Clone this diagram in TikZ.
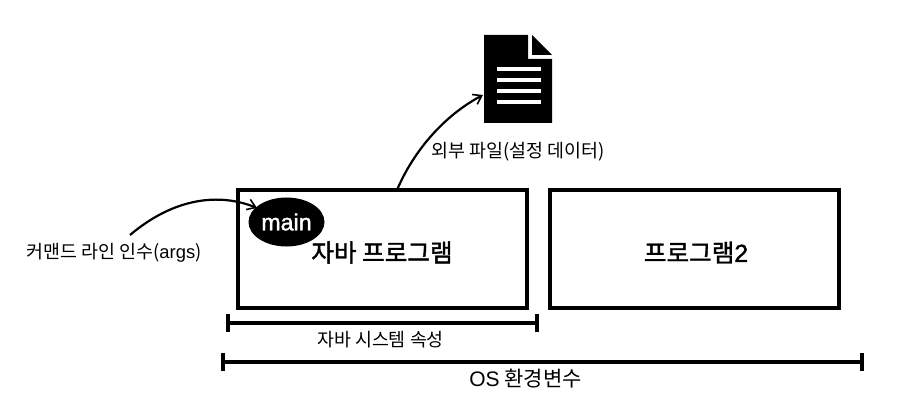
\documentclass[tikz,border=0pt]{standalone}
\usepackage{fontspec}
\setmainfont{Noto Sans CJK KR}
\newfontfamily\latinf{Liberation Sans}
\newfontfamily\headko[FakeBold=1.5]{Noto Sans CJK KR}
\newfontfamily\headla[FakeBold=1.5]{Liberation Sans}
\usetikzlibrary{arrows.meta,shapes.geometric}
\tikzset{
 prog/.style={draw=black,line width=4pt,fill=white,inner sep=0pt,outer sep=0pt,anchor=north west},
 lbl/.style={inner sep=0pt,font=\fontsize{18.4}{21}\selectfont,text=black},
 biglbl/.style={inner sep=0pt,font=\headko\fontsize{24.6}{28}\selectfont,text=black},
 curve/.style={line width=2.2pt,-{Straight Barb[length=8pt,width=11pt,line width=1.6pt]}},
 bar/.style={line width=3.6pt},
}
\begin{document}
\begin{tikzpicture}[x=1pt,y=-1pt]
\useasboundingbox (0,0) rectangle (903,417);
\node[prog,minimum width=289pt,minimum height=118pt] (p1) at (237.5,190) {};
\node[prog,minimum width=289pt,minimum height=118pt] (p2) at (550,190) {};
\node[biglbl] (t1) at (382,252.5) {자바 프로그램};
\node[biglbl] (t2) at (696,252.5) {프로그램{\headla 2}};
\node[draw=none,fill=black,ellipse,minimum width=76pt,minimum height=49pt,inner sep=0pt,text=white,font=\headla\fontsize{23.2}{26}\selectfont] (m) at (286.5,222) {main};
\node[lbl] (args) at (114,253) {커맨드 라인 인수({\latinf args})};
\node[lbl] (ext) at (518,151.5) {외부 파일(설정 데이터)};
\node[lbl] (sys) at (380.5,340) {자바 시스템 속성};
\node[lbl,font=\fontsize{21}{24}\selectfont] (os) at (525.5,379) {{\latinf OS} 환경변수};
% document icon
\fill[black] (484,35) -- (528,35) -- (528,59) -- (552,59) -- (552,123) -- (484,123) -- cycle;
\fill[black] (532,35) -- (552,55) -- (532,55) -- cycle;
\foreach \yy in {67,78,89,100}
  \fill[white] (497,\yy) rectangle (541,\yy+4.4);
\coordinate (doc) at (483,95);
\coordinate (pout) at (397,190);
\coordinate (aout) at (130,235);
\coordinate (min) at (257,208);
\draw[curve] (pout) .. controls (414,150) and (445,115) .. (doc);
\draw[curve] (aout) .. controls (175,197) and (220,193) .. (min);
% brackets
\coordinate (a1) at (228,323);
\coordinate (a2) at (537,323);
\coordinate (b1) at (223,362);
\coordinate (b2) at (862,362);
\draw[bar] (a1) -- (a2);
\draw[bar] ([yshift=-9pt]a1) -- ([yshift=9pt]a1);
\draw[bar] ([yshift=-9pt]a2) -- ([yshift=9pt]a2);
\draw[bar] (b1) -- (b2);
\draw[bar] ([yshift=-9pt]b1) -- ([yshift=9pt]b1);
\draw[bar] ([yshift=-9pt]b2) -- ([yshift=9pt]b2);
\end{tikzpicture}
\end{document}
